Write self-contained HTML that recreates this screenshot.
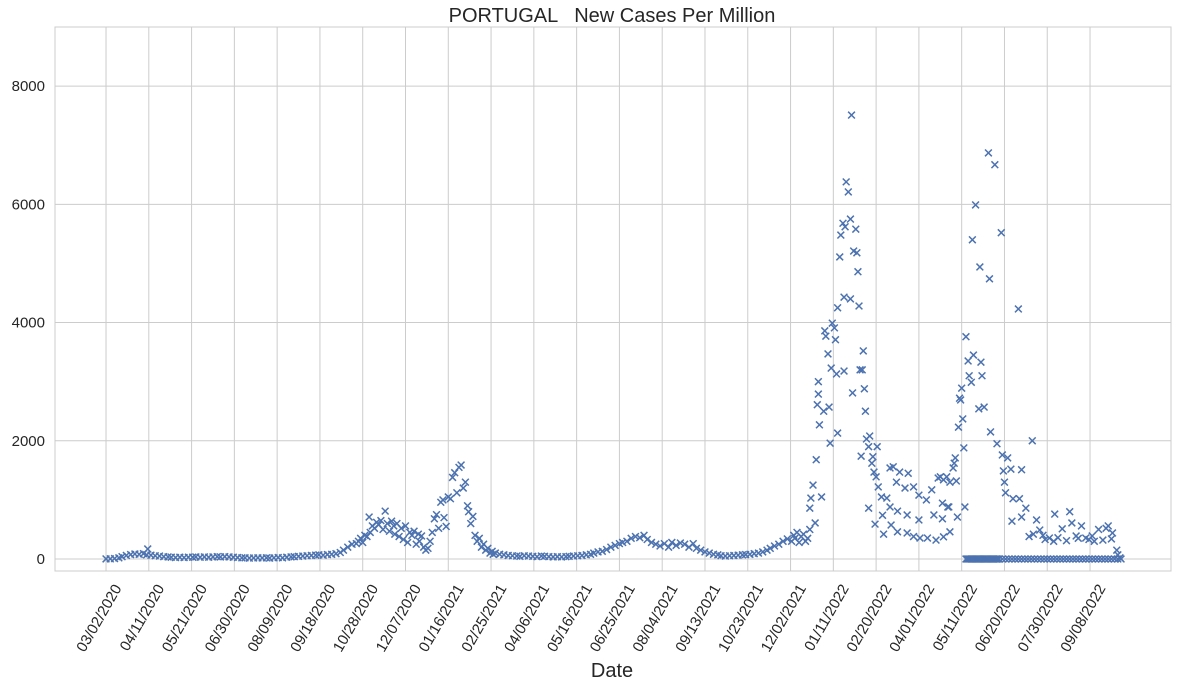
<!DOCTYPE html>
<html><head><meta charset="utf-8"><style>
html,body{margin:0;padding:0;background:#fff;}
svg{display:block;font-family:"Liberation Sans",sans-serif;}
</style></head><body>
<svg id="chart" width="1178" height="687" viewBox="0 0 1178 687" xmlns="http://www.w3.org/2000/svg">
<rect x="55" y="27" width="1116" height="544" fill="#fff" stroke="#cccccc" stroke-width="1"/>
<g id="grid"></g>
<g id="xticks"></g>
<g id="yticks"></g>
<g id="marks"></g>
<text x="612" y="22" font-size="20" text-anchor="middle" fill="#262626" xml:space="preserve">PORTUGAL   New Cases Per Million</text>
<text x="612" y="677" font-size="20" text-anchor="middle" fill="#262626">Date</text>
</svg>
<script>
const tickLabels=["03/02/2020","04/11/2020","05/21/2020","06/30/2020","08/09/2020","09/18/2020","10/28/2020","12/07/2020","01/16/2021","02/25/2021","04/06/2021","05/16/2021","06/25/2021","08/04/2021","09/13/2021","10/23/2021","12/02/2021","01/11/2022","02/20/2022","04/01/2022","05/11/2022","06/20/2022","07/30/2022","09/08/2022"];
const tickDays=[0,40,80,120,160,200,240,280,320,360,400,440,480,520,560,600,640,680,720,760,800,840,880,920];
const yTicks=[0,2000,4000,6000,8000];
const days=[
0,4,8,12,15,19,23,27,31,35, 38,39,42,46,50,54,58,61,65,69, 73,77,81,84,88,92,96,100,104,107,
111,115,119,123,127,130,134,138,142,146, 150,153,157,161,165,169,173,176,180,184, 188,192,196,199,203,207,211,215,219,222, 226,230,
234,236,238,240,242,244,246,247,249,251, 253,255,257,259,261,263,265,267,269,270, 272,274,276,278,280,282,284,286,288,290,
292,293,295,297,299,301,303,305,307,309, 311,313,315,316,318,320,322,324,326,328, 330,332,334,336,338,339,341,343,345,347, 349,351,353,355,357,359,361,362,364,
368,372,376,380,384,387,391,395,399,403, 407,410,414,418,422,426,430,433,437,441, 445,449,453,456,460,464,468,472,476,480,
483,487,491,495,499,503,506,510,514,518, 522,526,529,533,537,541,545,549,552,556, 560,564,568,572,575,579,583,587,591,595,
598,602,606,610,614,618,621,625,629,633, 637, 641,643,644,646,648,650,652,654,656,658,
697,692,694,696,689,691,701,687,699,702, 686,703,690,696,704,684,679,681,672,673, 682,708,675,678,690,683,705,707,666,666,
698,709,665,671,676,710,667,684,677,714, 711,713,721,664,706,717,713,718,720,661, 659,669,658,663,716,719,726,727,
733,736,742,750,739,747,755,760,767,772, 778,786,725,730,722,734,740,749,755,761, 768,776,783,733,740,749,760,774,782,782, 787,
780,783,789,795,792,793,794,788,789,796, 803,
825,831,813,837,810,817,826,853,804,806, 811,818,807,819,809,800,798,799,816,821, 801,797,827,802,833,866,838,843,839,846, 856,840,841,848,854,860,856,847,
870,873,876,882,887,894,901,903,907,912, 916,922,928,935,937,941,945,946,948,
863,867,878,886,890,898,909,919,924,932, 940];
const values=[
2,3,8,20,40,60,75,85,80,90, 70,170,65,55,50,40,35,30,25,30, 25,30,30,35,30,35,30,35,40,35,
40,35,30,25,20,20,15,18,20,18, 20,15,20,25,20,30,35,40,45,50, 55,60,65,70,65,75,80,90,110,150, 200,250,
260,300,350,280,400,380,710,450,560,520, 620,580,650,500,810,600,470,640,560,420, 600,380,520,330,560,280,450,400,470,250,
420,300,390,200,150,180,300,450,680,750, 520,960,1000,700,550,1050,1020,1380,1460,1120, 1550,1590,1200,1300,900,800,600,720,400,300, 350,200,250,150,180,100,130,80,100,
80,70,60,55,50,45,55,50,45,40, 50,45,40,35,40,35,40,45,50,55, 60,70,80,100,120,130,160,200,230,260,
280,300,350,380,360,400,330,280,250,220, 260,200,280,230,270,250,200,260,180,150, 120,100,80,70,55,50,55,60,65,70,
75,80,90,100,120,150,180,220,250,300, 340, 300,400,350,450,280,380,420,300,350,500,
7510,6380,6210,5750,5680,5620,5580,5480,5210,5180, 5110,4860,4430,4400,4280,4250,3990,3910,3860,3770, 3710,3520,3470,3230,3180,3130,3200,3200,3000,2790,
2810,2880,2610,2500,2570,2500,2270,2130,1960,2080, 2030,1900,1900,1680,1740,1730,860,1470,1390,1250, 1030,1050,860,610,1620,590,740,420,
1540,1560,1470,1450,1300,1200,1220,1080,1000,1170, 1370,1390,1050,1030,1220,575,460,440,380,355, 355,320,375,880,810,745,660,745,945,680, 880,
1390,1340,1300,1320,1540,1620,1710,880,460,710, 880,
6870,6670,5990,5520,5400,4940,4740,4230,3760,3350, 3450,3330,3100,3100,2990,2890,2720,2690,2540,2570, 2370,2230,2150,1880,1950,2000,1760,1710,1490,1520, 1510,1300,1120,1020,1020,860,710,640,
660,490,400,355,760,510,800,610,390,560, 355,390,500,520,560,440,150,70,20,
380,420,330,300,360,310,350,330,300,320, 340];
const zeroDays=[804,805,806,807,808,809,810,811,812,813,814,815,816,817,818,819,820,821,822,823,824,825,826,827,828,829,830,831,832,833,834,835,
838,841,844,847,850,853,856,859,862,865,868,871,874,877,880,883,886,889,892,895,898,901,904,907,910,913,916,919,922,925,928,931,934,937,940,943,946,949];
const zeroValues=[0,0,0,0,0,0,0,0,0,0,0,0,0,0,0,0,0,0,0,0,0,0,0,0,0,0,0,0,0,0,0,0,
0,0,0,0,0,0,0,0,0,0,0,0,0,0,0,0,0,0,0,0,0,0,0,0,0,0,0,0,0,0,0,0,0,0,0,0,0,0];

const NS="http://www.w3.org/2000/svg";
const X0=55,X1=1171,Y0=27,Y1=571;
const dMin=-47.7,dMax=995.7,vMin=-203,vMax=9000;
function xs(d){return X0+(d-dMin)/(dMax-dMin)*(X1-X0);}
function ys(v){return Y1-(v-vMin)/(vMax-vMin)*(Y1-Y0);}
function mk(tag,attrs,parent){const e=document.createElementNS(NS,tag);for(const k in attrs)e.setAttribute(k,attrs[k]);parent.appendChild(e);return e;}
const grid=document.getElementById('grid'),xt=document.getElementById('xticks'),yt=document.getElementById('yticks'),marks=document.getElementById('marks');
tickDays.forEach((d,i)=>{
  const x=xs(d);
  const l=mk('line',{x1:x,x2:x,y1:Y0,y2:Y1,stroke:'#cccccc','stroke-width':1},grid);
  
  
  const t=mk('text',{x:0,y:0,'font-size':15,fill:'#262626','text-anchor':'end',transform:'translate('+(x+16)+',588) rotate(-60)'},xt);
  t.textContent=tickLabels[i];
  
  
});
yTicks.forEach(v=>{
  const y=ys(v);
  const l=mk('line',{x1:X0,x2:X1,y1:y,y2:y,stroke:'#cccccc','stroke-width':1},grid);
  
  
  const t=mk('text',{x:45,y:y+5,'font-size':15,fill:'#262626','text-anchor':'end'},yt);
  t.textContent=String(v);
  
  
});
const r=3.4;
function drawX(d,v){
  const x=xs(d),y=ys(v);
  const p=mk('path',{d:'M'+(x-r)+' '+(y-r)+'L'+(x+r)+' '+(y+r)+'M'+(x-r)+' '+(y+r)+'L'+(x+r)+' '+(y-r),stroke:'#4c72b0','stroke-width':1.5,fill:'none'},marks);
  
  
}
const n=Math.min(days.length,values.length);
for(let i=0;i<n;i++)drawX(days[i],values[i]);
for(let i=0;i<zeroDays.length;i++)drawX(zeroDays[i],zeroValues[i]);
</script>
</body></html>
